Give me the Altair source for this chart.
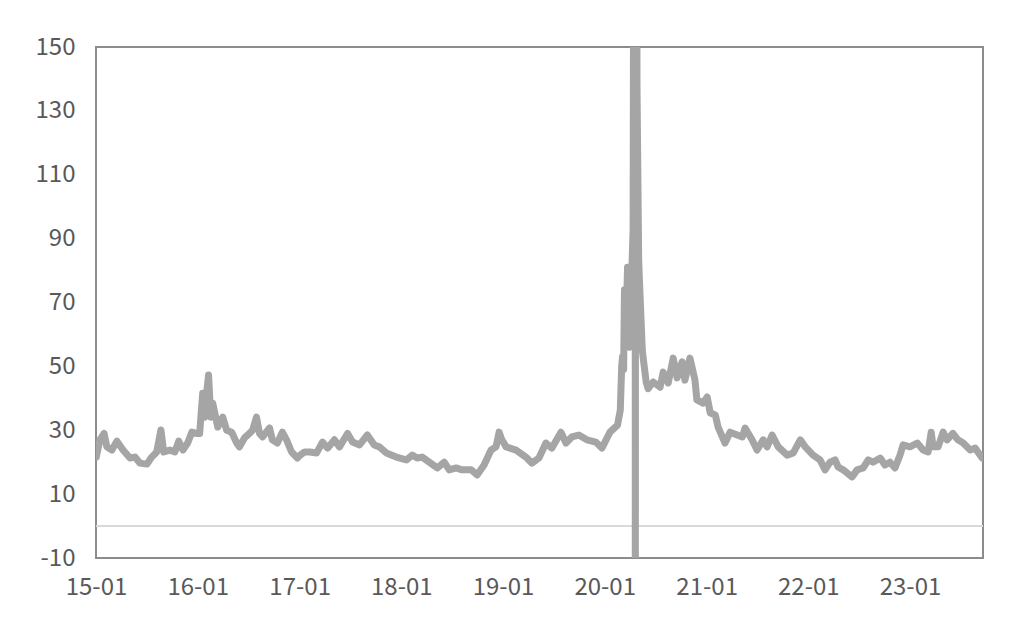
import altair as alt
import pandas as pd

dates = [
    "2015-01-02", "2015-01-15", "2015-01-30", "2015-02-09", "2015-02-27", "2015-03-17", "2015-04-08",
    "2015-05-03", "2015-05-21", "2015-06-08", "2015-07-03", "2015-07-20", "2015-08-07", "2015-08-22",
    "2015-09-01", "2015-09-23", "2015-10-11", "2015-10-25", "2015-11-09", "2015-11-26", "2015-12-11",
    "2015-12-29",
    "2016-01-08", "2016-01-19", "2016-01-26", "2016-02-02", "2016-02-09", "2016-02-17", "2016-02-24",
    "2016-03-13", "2016-03-31", "2016-04-14", "2016-05-02", "2016-05-20", "2016-05-30", "2016-06-17",
    "2016-07-05", "2016-07-16", "2016-07-30", "2016-08-10", "2016-08-21", "2016-09-15", "2016-09-25",
    "2016-10-13", "2016-10-31", "2016-11-15", "2016-12-03", "2016-12-24",
    "2017-01-03", "2017-01-19", "2017-02-06", "2017-03-03", "2017-03-24", "2017-04-11", "2017-05-06",
    "2017-05-24", "2017-06-22", "2017-07-10", "2017-08-04", "2017-09-01", "2017-09-26", "2017-10-14",
    "2017-11-08", "2017-12-14",
    "2018-01-19", "2018-02-09", "2018-02-27", "2018-03-17", "2018-04-11", "2018-05-10", "2018-06-04",
    "2018-06-22", "2018-07-17", "2018-08-07", "2018-09-09", "2018-09-30", "2018-10-25", "2018-11-19",
    "2018-12-07", "2018-12-18", "2018-12-28",
    "2019-01-12", "2019-02-17", "2019-03-24", "2019-04-15", "2019-05-10", "2019-06-04", "2019-06-25",
    "2019-07-28", "2019-08-15", "2019-09-05", "2019-09-30", "2019-10-29", "2019-11-30", "2019-12-22",
    "2020-01-20", "2020-02-16", "2020-02-26", "2020-03-02", "2020-03-05", "2020-03-09", "2020-03-12",
    "2020-03-17", "2020-03-23", "2020-03-30", "2020-04-12", "2020-04-19", "2020-04-20", "2020-04-21",
    "2020-04-26", "2020-05-02", "2020-05-08", "2020-05-15", "2020-05-22", "2020-05-29", "2020-06-05",
    "2020-06-23", "2020-07-18", "2020-07-29", "2020-08-16", "2020-09-03", "2020-09-17", "2020-10-05",
    "2020-10-15", "2020-11-02", "2020-11-20", "2020-11-27", "2020-12-19",
    "2021-01-03", "2021-01-14", "2021-02-01", "2021-02-11", "2021-03-08", "2021-03-26", "2021-04-21",
    "2021-05-09", "2021-05-19", "2021-06-13", "2021-07-01", "2021-07-23", "2021-08-06", "2021-08-24",
    "2021-09-15", "2021-10-17", "2021-11-08", "2021-12-03", "2021-12-21",
    "2022-01-18", "2022-02-12", "2022-03-02", "2022-03-20", "2022-04-07", "2022-04-18", "2022-05-06",
    "2022-06-07", "2022-06-25", "2022-07-17", "2022-08-04", "2022-08-21", "2022-09-16", "2022-10-03",
    "2022-10-21", "2022-11-08", "2022-11-26", "2022-12-07", "2023-01-01",
    "2023-01-27", "2023-02-17", "2023-03-07", "2023-03-18", "2023-03-25", "2023-04-12", "2023-04-30",
    "2023-05-14", "2023-06-04", "2023-06-22", "2023-07-11", "2023-08-05", "2023-08-23", "2023-09-17",
]

values = [
    21.6, 27.0, 29.0, 24.8, 23.8, 26.6, 23.8,
    21.3, 21.6, 19.7, 19.4, 21.6, 23.2, 30.1,
    23.2, 23.8, 23.2, 26.6, 23.8, 26.0, 29.4,
    29.0,
    29.0, 41.6, 34.1, 41.6, 47.3, 34.1, 38.5,
    31.0, 34.1, 30.0, 29.4, 26.0, 24.8, 27.6,
    29.0, 30.0, 34.1, 29.0, 27.9, 30.7, 27.0,
    26.0, 29.4, 27.0, 23.2, 21.3,
    22.2, 23.2, 23.2, 22.9, 26.3, 24.4, 27.0,
    24.8, 29.0, 26.3, 25.4, 28.5, 25.4, 24.8,
    22.9, 21.6,
    20.7, 22.2, 21.3, 21.6, 20.0, 18.2, 20.0,
    17.6, 18.2, 17.6, 17.6, 16.0, 19.1, 23.8,
    24.8, 29.4, 27.0,
    24.8, 23.8, 21.6, 19.7, 21.3, 26.0, 24.4,
    29.4, 26.0, 27.9, 28.5, 27.0, 26.3, 24.4,
    29.4, 31.6, 36.3, 50.0, 53.0, 49.0, 74.0,
    60.0, 81.0, 56.0, 93.0, 400.0, -80.0, 400.0,
    138.0, 83.0, 70.0, 55.0, 50.0, 45.0, 43.0,
    45.1, 43.5, 48.2, 44.8, 52.6, 46.4, 51.4,
    45.7, 52.6, 45.7, 39.5, 38.5,
    40.4, 35.4, 34.8, 31.0, 26.0, 29.4, 28.5,
    27.9, 30.7, 27.0, 23.8, 27.0, 24.8, 28.5,
    24.8, 22.2, 22.9, 27.0, 24.8,
    22.2, 20.7, 17.6, 20.0, 20.7, 18.5, 17.6,
    15.4, 17.6, 18.2, 20.7, 20.0, 21.3, 19.1,
    20.0, 18.2, 22.2, 25.4, 24.8,
    26.0, 23.8, 23.2, 29.4, 24.8, 24.8, 29.4,
    27.0, 29.0, 27.0, 26.0, 23.8, 24.4, 21.3,
]

y_ticks = [-10, 10, 30, 50, 70, 90, 110, 130, 150]
x_tick_years = [2015, 2016, 2017, 2018, 2019, 2020, 2021, 2022, 2023]

df = pd.DataFrame({"date": pd.to_datetime(dates), "value": values})
zero_df = pd.DataFrame({"v": [0]})

FONT = "Noto Sans CJK SC"
LABEL_COLOR = "#595959"

x_scale = alt.Scale(domain=[alt.DateTime(year=2015, month=1, date=1),
                            alt.DateTime(year=2023, month=9, date=20)])
y_scale = alt.Scale(domain=[-10, 150], nice=False, zero=False)

x_axis = alt.Axis(
    title=None, format="%y-%m", grid=False, ticks=False, domain=False,
    values=[alt.DateTime(year=y, month=1, date=1) for y in x_tick_years],
    labelFont=FONT, labelFontSize=24, labelColor=LABEL_COLOR,
    labelPadding=17, labelFlush=False,
)
y_axis = alt.Axis(
    title=None, grid=False, ticks=False, domain=False, values=y_ticks,
    labelExpr="datum.value < 0 ? '-' + abs(datum.value) : '' + datum.value",
    labelFont=FONT, labelFontSize=24, labelColor=LABEL_COLOR, labelPadding=21,
)

zero_line = alt.Chart(zero_df).mark_rule(color="#D9D9D9", strokeWidth=2).encode(
    y=alt.Y("v:Q", scale=y_scale, axis=y_axis)
)

line = alt.Chart(df).mark_line(
    color="#A5A5A5", strokeWidth=7, strokeJoin="round", strokeCap="round", clip=True
).encode(
    x=alt.X("date:T", scale=x_scale, axis=x_axis),
    y=alt.Y("value:Q", scale=y_scale, axis=y_axis),
)

chart = alt.layer(zero_line, line).properties(
    width=887, height=511,
    autosize=alt.AutoSizeParams(type="none"),
    padding={"left": 88, "top": 39, "right": 30, "bottom": 60},
    background="white",
).configure_view(stroke="#8C8C8C", strokeWidth=2)

chart.save("out.html", embed_options={"renderer": "svg", "actions": False})
